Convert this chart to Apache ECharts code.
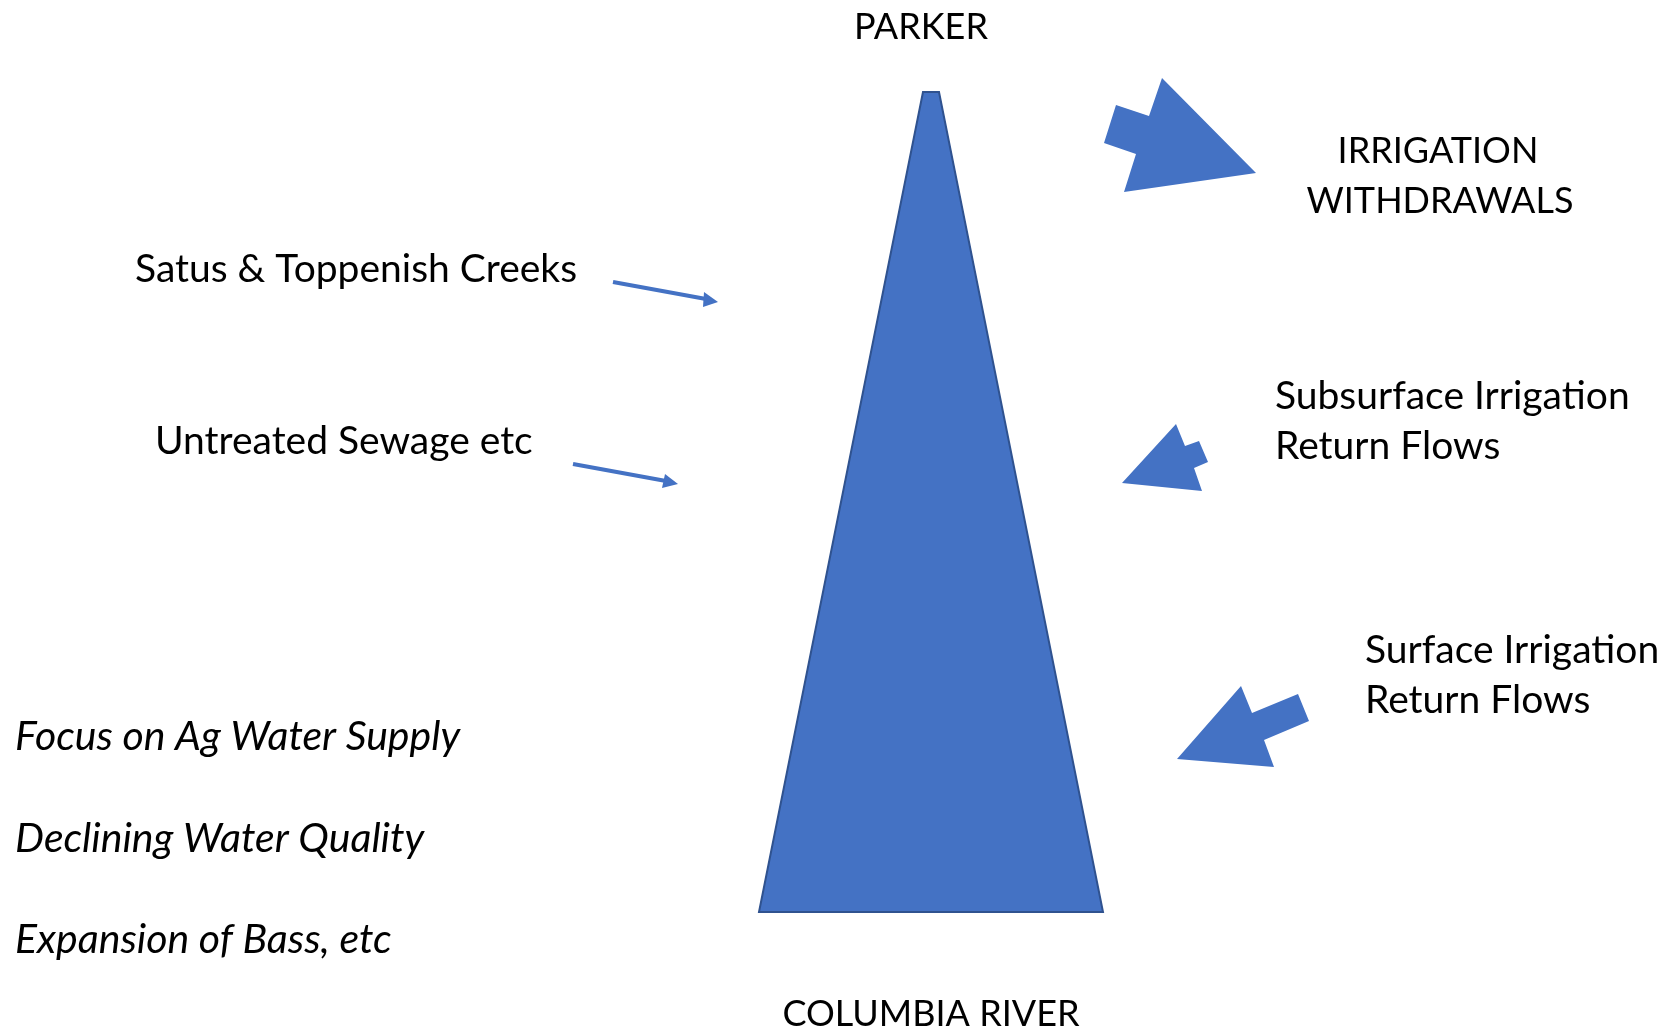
<!DOCTYPE html>
<html>
<head>
<meta charset="utf-8">
<script src="https://cdn.jsdelivr.net/npm/echarts@6/dist/echarts.min.js"></script>
<style>
html,body{margin:0;padding:0;background:#fff;}
#chart{width:1669px;height:1029px;}
</style>
</head>
<body>
<div id="chart"></div>
<script>
// ---- data (diagram coordinates in axis units) ----
const riverShape = [[923,92],[939,92],[1103,912],[759,912]];
const withdrawalArrow = [[1116,105],[1149,116],[1162,78],[1256,173],[1124,192],[1136,154],[1104,143]];
const subsurfaceArrow = [[1176,424],[1185,446],[1199,441],[1208,462],[1194,468],[1202,491],[1122,483]];
const surfaceArrow = [[1241,686],[1252,713],[1298,694],[1309,721],[1264,740],[1274,767],[1177,759]];
const creekArrowLine = [[613,282],[706,299]];
const creekArrowHead = [[704,292],[718,302],[703,307]];
const sewageArrowLine = [[573,464],[666,481]];
const sewageArrowHead = [[665,474],[678,484],[662,488]];

const topLabel = 'PARKER';
const bottomLabel = 'COLUMBIA RIVER';
const inflowLabels = ['Satus & Toppenish Creeks', 'Untreated Sewage etc'];
const withdrawalLabel = ['IRRIGATION', 'WITHDRAWALS'];
const subsurfaceLabel = ['Subsurface Irrigation', 'Return Flows'];
const surfaceLabel = ['Surface Irrigation', 'Return Flows'];
const issueLabels = ['Focus on Ag Water Supply', 'Declining Water Quality', 'Expansion of Bass, etc'];

// ---- layout ----
const FONT = 'Lato';
const FS_CAPS = 36;
const FS_TEXT = 39;
const FS_ITAL = 41;
const BLUE = '#4472C4';
const EDGE = '#2F528F';

const textItems = [
  {t: topLabel, x: 921, y: 27, align: 'center', fs: FS_CAPS},
  {t: withdrawalLabel[0], x: 1438, y: 151, align: 'center', fs: FS_CAPS},
  {t: withdrawalLabel[1], x: 1440, y: 201, align: 'center', fs: FS_CAPS},
  {t: inflowLabels[0], x: 135, y: 269, align: 'left', fs: FS_TEXT},
  {t: inflowLabels[1], x: 155, y: 441, align: 'left', fs: FS_TEXT},
  {t: subsurfaceLabel[0], x: 1275, y: 396, align: 'left', fs: FS_TEXT},
  {t: subsurfaceLabel[1], x: 1275, y: 446, align: 'left', fs: FS_TEXT},
  {t: surfaceLabel[0], x: 1365, y: 650, align: 'left', fs: FS_TEXT},
  {t: surfaceLabel[1], x: 1365, y: 700, align: 'left', fs: FS_TEXT},
  {t: issueLabels[0], x: 15, y: 737, align: 'left', italic: true, fs: FS_ITAL},
  {t: issueLabels[1], x: 15, y: 839, align: 'left', italic: true, fs: FS_ITAL},
  {t: issueLabels[2], x: 15, y: 940, align: 'left', italic: true, fs: FS_ITAL},
  {t: bottomLabel, x: 931, y: 1014, align: 'center', fs: FS_CAPS}
];

const polygons = [
  {pts: riverShape, stroke: EDGE, lw: 2},
  {pts: withdrawalArrow},
  {pts: subsurfaceArrow},
  {pts: surfaceArrow},
  {pts: creekArrowHead},
  {pts: sewageArrowHead}
];
const lines = [creekArrowLine, sewageArrowLine];

const chart = echarts.init(document.getElementById('chart'), null, {renderer: 'canvas'});
chart.setOption({
  backgroundColor: '#ffffff',
  animation: false,
  grid: {left: 0, right: 0, top: 0, bottom: 0},
  xAxis: {type: 'value', min: 0, max: 1669, show: false},
  yAxis: {type: 'value', min: 0, max: 1029, inverse: true, show: false},
  series: [
    {
      type: 'custom',
      coordinateSystem: 'cartesian2d',
      data: lines.map((l, i) => [i]),
      renderItem: function (params, api) {
        const l = lines[params.dataIndex];
        return {
          type: 'polyline',
          shape: {points: l.map(p => api.coord(p))},
          style: {stroke: BLUE, lineWidth: 4, fill: null}
        };
      }
    },
    {
      type: 'custom',
      coordinateSystem: 'cartesian2d',
      data: polygons.map((p, i) => [i]),
      renderItem: function (params, api) {
        const p = polygons[params.dataIndex];
        return {
          type: 'polygon',
          shape: {points: p.pts.map(q => api.coord(q))},
          style: {fill: BLUE, stroke: p.stroke || null, lineWidth: p.lw || 0, lineJoin: 'miter'}
        };
      }
    },
    {
      type: 'custom',
      coordinateSystem: 'cartesian2d',
      data: textItems.map((t, i) => [i]),
      renderItem: function (params, api) {
        const t = textItems[params.dataIndex];
        const c = api.coord([t.x, t.y]);
        return {
          type: 'text',
          x: c[0], y: c[1],
          style: {
            text: t.t,
            fill: '#000',
            font: (t.italic ? 'italic ' : '') + t.fs + 'px ' + FONT,
            textAlign: t.align,
            textVerticalAlign: 'middle'
          }
        };
      }
    }
  ]
});
</script>
</body>
</html>
